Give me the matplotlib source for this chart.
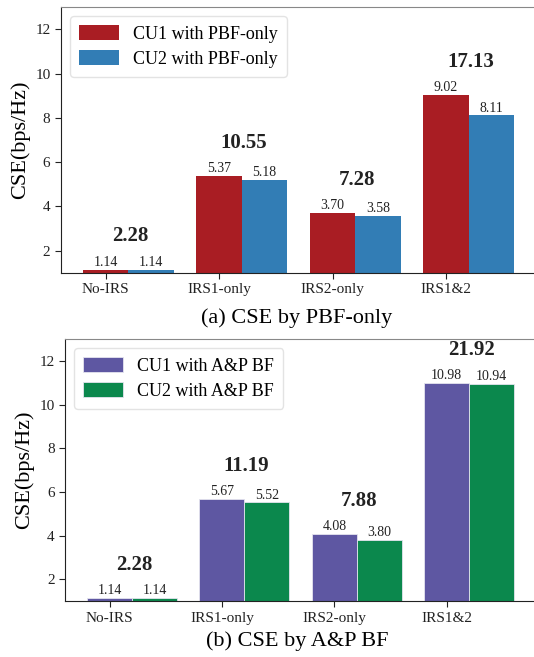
import matplotlib.pyplot as plt
import numpy as np

plt.rcParams['font.family'] = ['Liberation Serif', 'DejaVu Serif']

# Data
scenarios = ['No-IRS', 'IRS1-only', 'IRS2-only', 'IRS1&2']
cu1_pbf = [1.14, 5.37, 3.70, 9.02]
cu2_pbf = [1.14, 5.18, 3.58, 8.11]
tot_pbf = [2.28, 10.55, 7.28, 17.13]
cu1_ap = [1.14, 5.67, 4.08, 10.98]
cu2_ap = [1.14, 5.52, 3.80, 10.94]
tot_ap = [2.28, 11.19, 7.88, 21.92]

panels = [
    dict(cu1=cu1_pbf, cu2=cu2_pbf, tot=tot_pbf,
         labels=['CU1 with PBF-only', 'CU2 with PBF-only'],
         colors=['#a91d23', '#327db5'], edge='none', caption='(a) CSE by PBF-only',
         rect=[0.114, 0.585, 0.89, 0.404], cap_y=0.516),
    dict(cu1=cu1_ap, cu2=cu2_ap, tot=tot_ap,
         labels=['CU1 with A&P BF', 'CU2 with A&P BF'],
         colors=['#5e57a2', '#0b884d'], edge='#e4e4ee', caption='(b) CSE by A&P BF',
         rect=[0.122, 0.085, 0.882, 0.399], cap_y=0.024),
]

fig = plt.figure(figsize=(5.34, 6.57), dpi=100)
w = 0.4
x = np.arange(len(scenarios))

for p in panels:
    ax = fig.add_axes(p['rect'])
    b1 = ax.bar(x, p['cu1'], w, color=p['colors'][0], edgecolor=p['edge'], linewidth=0.6, label=p['labels'][0])
    b2 = ax.bar(x + w, p['cu2'], w, color=p['colors'][1], edgecolor=p['edge'], linewidth=0.6, label=p['labels'][1])
    for bars in (b1, b2):
        for r in bars:
            ax.text(r.get_x() + r.get_width() / 2, r.get_height() + 0.04, '%.2f' % r.get_height(),
                    ha='center', va='bottom', fontsize=10, color='#222222')
    # total CSE above each group
    for i in range(len(scenarios)):
        top = max(p['cu1'][i], p['cu2'][i])
        ax.text(x[i] + w / 2 + 0.02, top + 1.5, '%.2f' % p['tot'][i], ha='center', va='center',
                fontsize=15, fontweight='bold', color='#222222')
    ax.set_xlim(-0.395, 3.795)
    ax.set_ylim(1, 13)
    ax.set_yticks([2, 4, 6, 8, 10, 12])
    ax.set_xticks(x)
    ax.set_xticklabels(scenarios)
    ax.tick_params(axis='both', labelsize=11, colors='#222222', length=4)
    ax.set_ylabel('CSE(bps/Hz)', fontsize=16)
    ax.spines['top'].set_color('#888888')
    ax.spines['right'].set_visible(False)
    ax.spines['left'].set_color('#222222')
    ax.spines['bottom'].set_color('#222222')
    ax.legend(loc='upper left', fontsize=13, frameon=True, edgecolor='#dddddd', fancybox=True,
              handlelength=2.2, handleheight=0.9, borderpad=0.5, labelspacing=0.4)
    fig.text(0.556, p['cap_y'], p['caption'], ha='center', va='center', fontsize=16)

fig.savefig('out.png', dpi=100)
